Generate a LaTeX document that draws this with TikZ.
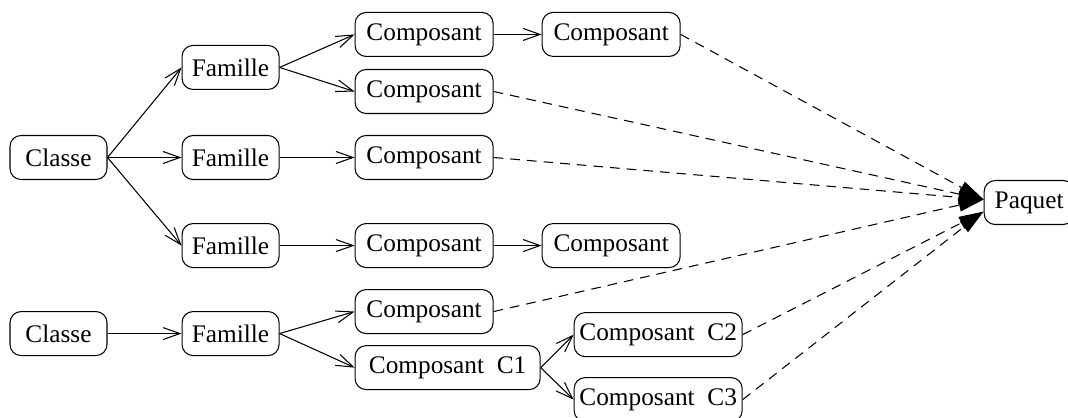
\documentclass[tikz,border=0pt]{standalone}
\usepackage{fontspec}
\setmainfont{Liberation Serif}
\usetikzlibrary{arrows.meta,positioning}

\begin{document}
\begin{tikzpicture}[
    line width=0.6pt,
    box/.style={rectangle, draw, rounded corners=0.22cm, minimum height=0.88cm, inner xsep=0pt, align=center, font=\fontsize{14.4}{16}\selectfont},
    classbox/.style={box, minimum width=1.94cm},
    compbox/.style={box, minimum width=2.76cm},
    widebox/.style={box, minimum width=3.36cm},
    arrow/.style={-{Straight Barb[length=3.4mm, width=2.4mm]}},
    deparrow/.style={dashed, dash pattern=on 5.5pt off 4pt, -{Triangle[length=5mm, width=2.6mm]}}
]
\useasboundingbox (0,0) rectangle (21.36,-8.34);

% Classes and familles
\node[classbox] (classeA) at (1.17,-3.15) {Classe};
\node[classbox, right=1.48cm of classeA] (famB) {Famille};
\node[classbox, above=0.9cm of famB] (famA) {Famille};
\node[classbox, below=0.86cm of famB] (famC) {Famille};
\node[classbox, below=2.62cm of classeA] (classeB) {Classe};
\node[classbox, right=1.48cm of classeB] (famD) {Famille};

% Composants
\node[compbox, right=1.5cm of famA, yshift=0.66cm] (compA) {Composant};
\node[compbox, right=0.96cm of compA] (compAb) {Composant};
\node[compbox, below=0.24cm of compA] (compB) {Composant};
\node[compbox, right=1.5cm of famB] (compC) {Composant};
\node[compbox, right=1.5cm of famC] (compD) {Composant};
\node[compbox, right=0.96cm of compD] (compDb) {Composant};
\node[compbox, right=1.5cm of famD, yshift=0.44cm] (compE) {Composant};
\node[box, minimum width=3.7cm, below right=0.22cm and 0cm of compE.south west] (compC1) {Composant~~C1};
\node[widebox, right=0.66cm of compC1, yshift=0.66cm] (compC2) {Composant~~C2};
\node[widebox, right=0.66cm of compC1, yshift=-0.64cm] (compC3) {Composant~~C3};

% Paquet
\node[box, minimum width=1.8cm, right=9.8cm of compC, yshift=-0.9cm] (paquet) {Paquet};
\coordinate (inHaut) at ([yshift=0.06cm]paquet.west);
\coordinate (inBas) at ([yshift=-0.18cm]paquet.west);

% Arrows
\draw[arrow] (classeA.east) -- (famA.west);
\draw[arrow] (classeA.east) -- (famB.west);
\draw[arrow] (classeA.east) -- (famC.west);
\draw[arrow] (classeB) -- (famD);
\draw[arrow] (famA.east) -- (compA.west);
\draw[arrow] (famA.east) -- (compB.west);
\draw[arrow] (famB) -- (compC);
\draw[arrow] (famC) -- (compD);
\draw[arrow] (famD.east) -- (compE.west);
\draw[arrow] (famD.east) -- (compC1.west);
\draw[arrow] (compA) -- (compAb);
\draw[arrow] (compD) -- (compDb);
\draw[arrow] (compC1.east) -- (compC2.west);
\draw[arrow] (compC1.east) -- (compC3.west);

% Dependencies to the paquet
\draw[deparrow] (compAb.east) -- (inHaut);
\draw[deparrow] (compB.east) -- (inHaut);
\draw[deparrow] (compC.east) -- (inHaut);
\draw[deparrow] (compE.east) -- (inHaut);
\draw[deparrow] (compC2.east) -- (inBas);
\draw[deparrow] (compC3.east) -- (inBas);

\end{tikzpicture}
\end{document}
